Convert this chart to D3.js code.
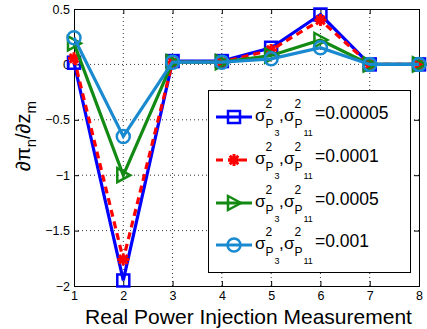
<!DOCTYPE html>
<html><head><meta charset="utf-8">
<script src="https://cdn.jsdelivr.net/npm/d3@7"></script>
<style>
body{margin:0;background:#fff;}
svg{display:block;font-family:"Liberation Sans",Arial,Helvetica,sans-serif;}
</style></head>
<body><svg id="c" width="427" height="329"></svg>
<script>
const categories = [1,2,3,4,5,6,7,8];
const xTicks = [1,2,3,4,5,6,7,8];
const yTicks = [0.5,0,-0.5,-1,-1.5,-2];
const s1 = [0.015,-1.95,0.03,0.03,0.15,0.45,0,0];
const s2 = [0.055,-1.76,0.02,0.02,0.13,0.40,0,0];
const s3 = [0.19,-1.0,0.02,0.02,0.08,0.22,0,0];
const s4 = [0.24,-0.65,0.02,0.02,0.05,0.15,0,0];
const legendValues = ["=0.00005","=0.0001","=0.0005","=0.001"];

const series = [
  {v:s1,color:"#0000ff",marker:"square",dash:null},
  {v:s2,color:"#ff0000",marker:"star",dash:"7,5"},
  {v:s3,color:"#138a13",marker:"tri",dash:null},
  {v:s4,color:"#1a8ad0",marker:"circle",dash:null}
];

const svg = d3.select("#c");
const L=74,R=419,T=9,B=286;
const x = d3.scaleLinear().domain([1,8]).range([L,R]);
const y = d3.scaleLinear().domain([-2,0.5]).range([B,T]);

// grid
const g = svg.append("g");
g.selectAll(".gx").data(xTicks.slice(1,-1)).enter().append("line")
 .attr("x1",d=>x(d)).attr("x2",d=>x(d)).attr("y1",T).attr("y2",B)
 .attr("stroke","#000").attr("stroke-width",0.8).attr("stroke-dasharray","1,3");
g.selectAll(".gy").data(yTicks.slice(1,-1)).enter().append("line")
 .attr("y1",d=>y(d)).attr("y2",d=>y(d)).attr("x1",L).attr("x2",R)
 .attr("stroke","#000").attr("stroke-width",0.8).attr("stroke-dasharray","1,3");

// axes
const xa = svg.append("g").attr("transform",`translate(0,${B})`)
 .call(d3.axisBottom(x).tickValues(xTicks).tickSize(-5).tickPadding(5).tickFormat(d3.format("d")));
const xa2 = svg.append("g").attr("transform",`translate(0,${T})`)
 .call(d3.axisTop(x).tickValues(xTicks).tickSize(-5).tickFormat(""));
const ya = svg.append("g").attr("transform",`translate(${L},0)`)
 .call(d3.axisLeft(y).tickValues(yTicks).tickSize(-5).tickPadding(4).tickFormat(d=>d3.format("")(d).replace("-","\u2212")));
const ya2 = svg.append("g").attr("transform",`translate(${R},0)`)
 .call(d3.axisRight(y).tickValues(yTicks).tickSize(-5).tickFormat(""));
[xa,xa2,ya,ya2].forEach(a=>{
  a.select(".domain").attr("stroke","#000").attr("stroke-width",1);
  a.selectAll(".tick line").attr("stroke","#000");
  a.selectAll("text").attr("font-size",12.5).attr("font-family","Liberation Sans, Arial, sans-serif").attr("fill","#000");
});
ya.selectAll(".tick text").attr("dy","0.32em");

function marker(sel,type,color){
  if(type==="square"){
    sel.append("rect").attr("x",-6).attr("y",-6).attr("width",12).attr("height",12)
      .attr("fill","none").attr("stroke",color).attr("stroke-width",2.5);
  } else if(type==="circle"){
    sel.append("circle").attr("r",6.5).attr("fill","none").attr("stroke",color).attr("stroke-width",2.5);
  } else if(type==="tri"){
    sel.append("path").attr("d","M-6,-7L7,0L-6,7Z").attr("fill","none").attr("stroke",color).attr("stroke-width",2.5).attr("stroke-linejoin","miter");
  } else {
    sel.append("path").attr("d","M-6,0H6M0,-6V6M-4.3,-4.3L4.3,4.3M-4.3,4.3L4.3,-4.3")
      .attr("fill","none").attr("stroke",color).attr("stroke-width",3);
  }
}

const line = d3.line().x((d,i)=>x(categories[i])).y(d=>y(d));
series.forEach(s=>{
  svg.append("path").datum(s.v).attr("d",line).attr("fill","none")
    .attr("stroke",s.color).attr("stroke-width",3.2)
    .attr("stroke-dasharray",s.dash).attr("stroke-linejoin","miter");
  svg.selectAll(null).data(s.v).enter().append("g")
    .attr("transform",(d,i)=>`translate(${x(categories[i])},${y(d)})`)
    .each(function(){marker(d3.select(this),s.marker,s.color);});
});

// legend
const lg = svg.append("g");
lg.append("rect").attr("x",208.5).attr("y",90.5).attr("width",202).attr("height",182)
  .attr("fill","#fff").attr("stroke","#000").attr("stroke-width",1);
const rowY = [117,160,203,245];
series.forEach((s,i)=>{
  const y0 = rowY[i];
  const r = lg.append("g");
  r.append("line").attr("x1",216).attr("x2",252).attr("y1",y0).attr("y2",y0)
    .attr("stroke",s.color).attr("stroke-width",3.2).attr("stroke-dasharray",s.dash);
  const m = r.append("g").attr("transform",`translate(234,${y0})`);
  marker(m,s.marker,s.color);
  const t = (tx,ty,str,fs)=>r.append("text").attr("x",tx).attr("y",ty).attr("font-size",fs).attr("fill","#000").text(str);
  t(255,y0+4,"σ",17);
  t(265.5,y0-9,"2",12);
  t(265.5,y0+11,"P",12);
  t(274.5,y0+19,"3",9);
  t(279,y0+4,",",17);
  t(284,y0+4,"σ",17);
  t(294.5,y0-9,"2",12);
  t(294.5,y0+11,"P",12);
  t(303.5,y0+19,"11",9);
  t(315,y0+2,legendValues[i],17.5);
});

// axis labels
svg.append("text").attr("x",248.5).attr("y",323.5).attr("text-anchor","middle")
  .attr("font-size",21).attr("fill","#000").text("Real Power Injection Measurement");
const yl = svg.append("text").attr("transform","translate(30,136) rotate(-90)")
  .attr("text-anchor","middle").attr("font-size",20).attr("fill","#000");
yl.append("tspan").text("∂π");
yl.append("tspan").attr("font-size",15).attr("dy",6).text("n");
yl.append("tspan").attr("dy",-6).text("/∂z");
yl.append("tspan").attr("font-size",15).attr("dy",6).text("m");
</script></body></html>
